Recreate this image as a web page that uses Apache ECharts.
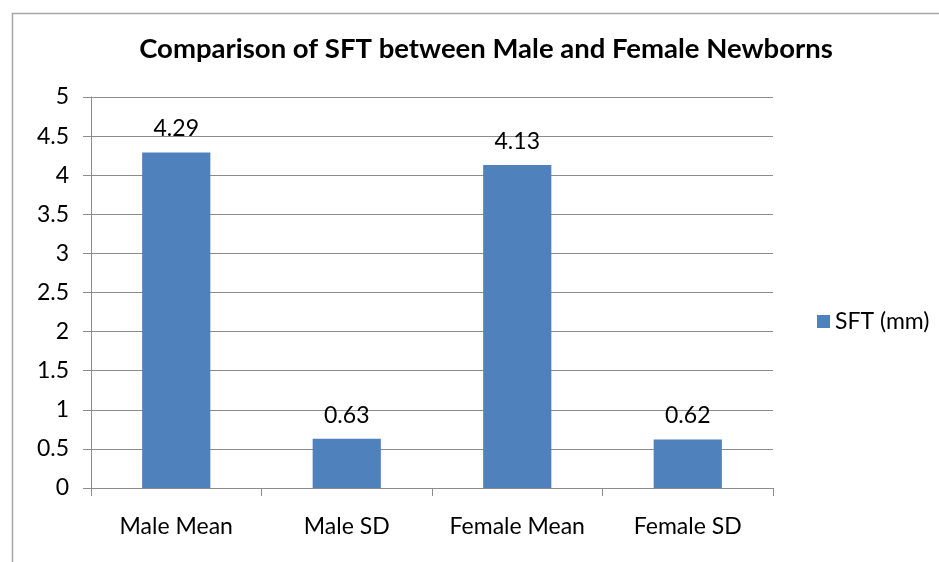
<!DOCTYPE html>
<html><head><meta charset="utf-8">
<script src="https://cdn.jsdelivr.net/npm/echarts@6/dist/echarts.min.js"></script>
<style>html,body{margin:0;padding:0;background:#fff}#c{width:939px;height:562px}</style>
</head><body><div id="c"></div>
<script>
const categories = ['Male Mean', 'Male SD', 'Female Mean', 'Female SD'];
const sftValues = [4.29, 0.63, 4.13, 0.62];
const seriesName = 'SFT (mm)';
const titleText = 'Comparison of SFT between Male and Female Newborns';

const font = 'Lato, "Open Sans", sans-serif';
const chart = echarts.init(document.getElementById('c'));
chart.setOption({
  animation: false,
  backgroundColor: '#fff',
  graphic: [{type: 'rect', left: 10, top: 11, shape: {width: 1000, height: 700},
    style: {fill: 'none', stroke: '#a6a6a6', lineWidth: 1.5}, z: -1}],
  title: {text: titleText, left: 481, top: 30, textAlign: 'center',
    textStyle: {fontFamily: font, fontWeight: 'bold', fontSize: 27.5, color: '#000'}},
  legend: {data: [seriesName], left: 812, top: 305, orient: 'vertical',
    icon: 'rect', itemWidth: 13, itemHeight: 13, itemGap: 8,
    textStyle: {fontFamily: font, fontSize: 23, color: '#000'}},
  grid: {left: 91, right: 166, top: 97, bottom: 74, containLabel: false},
  xAxis: {type: 'category', data: categories,
    axisLine: {lineStyle: {color: '#8c8c8c', width: 1}},
    axisTick: {show: true, length: 8, interval: 0, alignWithLabel: false, lineStyle: {color: '#8c8c8c'}},
    axisLabel: {interval: 0, fontFamily: font, fontSize: 23, color: '#000', margin: 27}},
  yAxis: {type: 'value', min: 0, max: 5, interval: 0.5,
    axisLine: {show: true, lineStyle: {color: '#8c8c8c', width: 1}},
    axisTick: {show: true, length: 8, lineStyle: {color: '#8c8c8c'}},
    splitLine: {lineStyle: {color: '#8c8c8c', width: 1}},
    axisLabel: {fontFamily: font, fontSize: 23, color: '#000', margin: 22}},
  series: [{name: seriesName, type: 'bar', data: sftValues, barWidth: '40%',
    itemStyle: {color: '#4f81bd'},
    label: {show: true, position: 'top', distance: 12, fontFamily: font, fontSize: 23, color: '#000'}}]
});
</script></body></html>
